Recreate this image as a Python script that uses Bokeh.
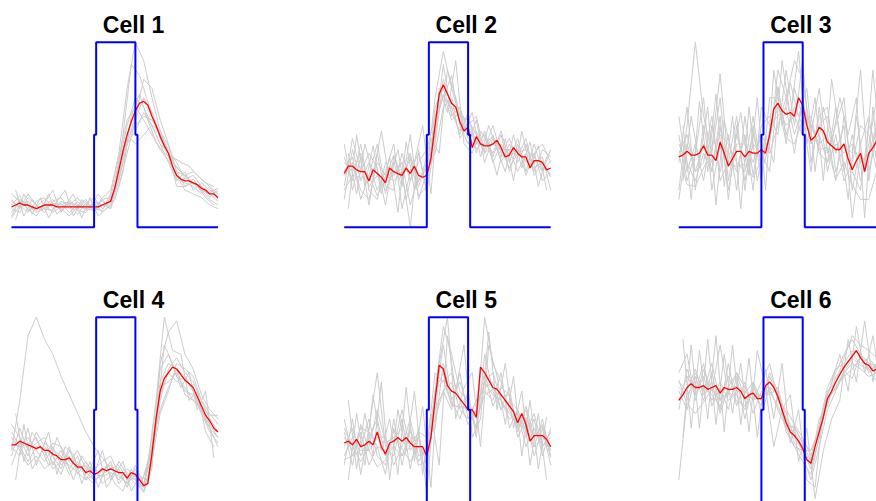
from bokeh.plotting import figure
from bokeh.models import Range1d, Label
from bokeh.embed import file_html
from bokeh.resources import INLINE

# time axis (arbitrary sample units, 0..100)
t_gray = list(range(0, 101, 4))
t_gray_b = list(range(2, 99, 4))
t_red = list(range(0, 101, 2))

# stimulus trace (scaled 0..100)
stim_t = [0, 40, 40, 41, 41, 60, 60, 61, 61, 100]
stim_y = [0, 0, 50, 50, 100, 100, 50, 50, 0, 0]

titles = ["Cell 1", "Cell 2", "Cell 3", "Cell 4", "Cell 5", "Cell 6"]

gray_1 = [
    [8, 14, 10, 6, 12, 15, 9, 12, 7, 13, 10, 9, 18, 40, 75, 100, 90, 70, 52, 40, 32, 28, 24, 20, 18, 14],
    [15, 10, 18, 12, 8, 14, 16, 10, 14, 9, 14, 12, 12, 25, 45, 60, 80, 75, 58, 45, 30, 22, 26, 20, 15, 12],
    [5, 12, 8, 14, 16, 10, 13, 8, 12, 15, 8, 15, 16, 35, 55, 70, 65, 55, 45, 35, 25, 30, 20, 24, 20, 18],
    [18, 14, 12, 9, 13, 20, 8, 15, 10, 12, 16, 10, 14, 28, 48, 55, 60, 58, 50, 42, 35, 26, 28, 22, 16, 20],
    [10, 8, 16, 12, 10, 9, 14, 12, 16, 10, 12, 14, 10, 22, 40, 58, 70, 62, 48, 38, 26, 24, 22, 18, 22, 15],
    [12, 17, 9, 11, 15, 12, 10, 6, 11, 14, 9, 16, 20, 38, 58, 65, 58, 50, 42, 36, 28, 20, 18, 16, 12, 10],
    [6, 15, 12, 8, 10, 13, 12, 14, 9, 8, 13, 8, 12, 26, 45, 52, 62, 55, 52, 44, 30, 28, 30, 26, 22, 18],
    [14, 11, 14, 10, 12, 8, 11, 13, 12, 10, 9, 12, 10, 34, 50, 45, 50, 55, 45, 40, 22, 22, 24, 22, 19, 21],
]
gray_1b = [
    [4, 18, 7, 16, 5, 14, 20, 6, 15, 10, 18, 12, 20, 50, 88, 82, 68, 56, 45, 35, 30, 25, 22, 16, 12],
    [20, 6, 15, 9, 18, 7, 12, 18, 5, 16, 6, 10, 15, 30, 60, 72, 58, 46, 40, 38, 35, 33, 28, 24, 22],
]
red_1 = [11, 12, 13, 12, 12, 11, 10, 11, 12, 12, 12, 11, 11, 11, 11, 11, 11, 11, 11, 11,
         11, 11, 12, 13, 14, 21, 31, 41, 50, 57, 63, 67, 68, 66, 60, 55, 49, 44, 40, 33,
         28, 26, 25, 25, 24, 23, 21, 20, 18, 18, 16]

gray_2 = [
    [45, 20, 38, 12, 40, 18, 35, 22, 50, 15, 30, 70, 95, 75, 60, 58, 50, 42, 55, 40, 48, 35, 45, 30, 42, 38],
    [15, 42, 25, 35, 20, 30, 45, 10, 30, 40, 20, 45, 80, 65, 50, 62, 40, 52, 38, 50, 30, 45, 28, 40, 25, 30],
    [30, 38, 15, 28, 45, 22, 20, 40, 25, 35, 42, 60, 70, 82, 55, 45, 58, 35, 48, 38, 42, 30, 40, 35, 38, 20],
    [38, 25, 45, 20, 15, 35, 28, 35, 12, 28, 25, 50, 88, 60, 65, 50, 42, 48, 40, 52, 35, 48, 30, 45, 30, 42],
    [22, 48, 30, 40, 32, 12, 38, 25, 40, 22, 35, 40, 65, 70, 48, 55, 60, 40, 50, 35, 45, 38, 48, 28, 35, 28],
    [28, 35, 20, 15, 35, 28, 25, 30, 0, 42, 18, 65, 75, 62, 52, 60, 45, 50, 35, 45, 38, 42, 35, 40, 45, 35],
    [35, 30, 40, 22, 28, 20, 30, 35, 38, 25, 32, 55, 72, 58, 62, 48, 52, 40, 45, 42, 32, 40, 42, 38, 30, 36],
    [20, 28, 27, 28, 17, 27, 39, 27, 37, 17, 22, 55, 71, 64, 64, 54, 45, 45, 49, 42, 42, 42, 36, 32, 35, 27],
]
gray_2b = [
    [10, 50, 22, 44, 18, 38, 8, 46, 20, 30, 48, 40, 85, 70, 52, 62, 38, 55, 42, 30, 50, 32, 46, 22, 38],
    [40, 18, 45, 28, 52, 25, 42, 15, 35, 55, 18, 75, 62, 90, 45, 40, 52, 45, 28, 48, 25, 52, 32, 44, 20],
]
red_2 = [29, 33, 33, 31, 30, 30, 25, 31, 29, 27, 24, 32, 30, 29, 28, 32, 29, 33, 28, 27,
         28, 37, 55, 72, 77, 72, 67, 65, 57, 52, 54, 43, 49, 45, 44, 44, 45, 47, 43, 38,
         39, 43, 40, 38, 38, 32, 36, 36, 35, 31, 32]

gray_3 = [
    [20, 55, 100, 60, 40, 70, 25, 50, 35, 60, 30, 45, 85, 70, 90, 80, 50, 75, 40, 55, 70, 20, 45, 60, 35, 50],
    [60, 30, 45, 25, 55, 30, 50, 20, 60, 28, 55, 60, 50, 85, 55, 90, 35, 60, 65, 30, 45, 40, 85, 25, 60, 40],
    [35, 65, 20, 55, 30, 60, 15, 55, 25, 45, 40, 30, 75, 50, 65, 55, 60, 40, 35, 65, 30, 50, 25, 45, 70, 35],
    [50, 25, 40, 70, 20, 45, 40, 30, 50, 20, 65, 55, 60, 65, 40, 70, 45, 55, 60, 40, 55, 5, 40, 30, 50, 55],
    [15, 45, 30, 35, 60, 25, 35, 60, 20, 55, 25, 70, 70, 45, 75, 60, 30, 65, 30, 50, 25, 35, 55, 50, 30, 60],
    [45, 35, 25, 40, 30, 55, 20, 45, 45, 35, 50, 40, 55, 70, 50, 65, 55, 45, 50, 25, 60, 30, 20, 55, 45, 30],
    [40, 50, 30, 45, 35, 50, 45, 35, 30, 50, 35, 50, 65, 55, 60, 50, 45, 50, 35, 45, 40, 45, 35, 40, 55, 45],
    [39, 23, 22, 32, 42, 83, 34, 33, 34, 27, 36, 50, 76, 48, 45, 58, 56, 42, 43, 26, 35, 23, 15, 15, 31, 37],
]
gray_3b = [
    [55, 15, 68, 30, 72, 22, 60, 10, 65, 25, 50, 35, 90, 60, 95, 45, 70, 25, 80, 50, 15, 60, 30, 85, 40],
    [25, 60, 35, 65, 12, 58, 38, 62, 28, 70, 20, 85, 55, 78, 60, 75, 30, 65, 45, 70, 50, 70, 5, 65, 20],
]
red_3 = [38, 39, 41, 39, 39, 40, 44, 39, 39, 36, 46, 40, 33, 37, 41, 41, 38, 41, 40, 40,
         42, 40, 50, 64, 67, 63, 61, 62, 60, 70, 66, 55, 47, 49, 54, 52, 46, 44, 42, 42,
         45, 37, 31, 36, 40, 30, 40, 43, 47, 45, 44]

gray_4 = [
    [28, 55, 90, 100, 88, 80, 68, 58, 48, 38, 30, 24, 18, 16, 14, 12, 8, 20, 65, 75, 72, 68, 60, 50, 40, 35],
    [38, 30, 35, 28, 22, 30, 20, 25, 18, 20, 12, 15, 22, 10, 16, 12, 5, 18, 75, 92, 98, 80, 72, 58, 50, 45],
    [25, 40, 28, 32, 35, 20, 28, 18, 25, 12, 20, 10, 14, 18, 8, 20, 10, 25, 55, 72, 78, 70, 65, 55, 48, 42],
    [42, 35, 25, 38, 30, 25, 18, 30, 15, 22, 15, 28, 12, 22, 15, 10, 14, 30, 62, 65, 70, 60, 58, 48, 40, 30],
    [30, 25, 40, 20, 32, 28, 25, 15, 22, 14, 10, 18, 20, 12, 18, 14, 6, 22, 48, 60, 75, 72, 68, 55, 45, 38],
    [20, 32, 30, 35, 25, 32, 30, 22, 28, 18, 18, 22, 25, 15, 10, 18, 8, 35, 72, 80, 68, 62, 55, 50, 42, 35],
    [35, 28, 20, 25, 18, 22, 15, 28, 20, 16, 12, 15, 18, 20, 12, 16, 10, 28, 58, 70, 65, 68, 60, 48, 38, 32],
    [32, 30, 22, 30, 28, 18, 22, 20, 16, 12, 15, 14, 16, 14, 10, 15, 9, 30, 50, 62, 72, 58, 55, 52, 47, 47],
]
gray_4b = [
    [48, 22, 38, 30, 20, 35, 24, 12, 25, 18, 28, 8, 15, 22, 6, 14, 12, 40, 85, 75, 62, 70, 50, 60, 24],
    [12, 42, 18, 26, 38, 15, 30, 26, 10, 22, 8, 20, 10, 6, 18, 8, 20, 55, 100, 82, 80, 55, 60, 38, 30],
]
red_4 = [31, 31, 33, 32, 31, 30, 29, 30, 28, 28, 26, 25, 23, 23, 24, 21, 19, 19, 16, 17,
         15, 16, 18, 17, 18, 17, 16, 16, 13, 16, 15, 12, 9, 10, 26, 45, 60, 67, 70, 73,
         72, 69, 66, 64, 62, 57, 52, 47, 44, 40, 38]

gray_5 = [
    [20, 45, 15, 40, 70, 30, 25, 45, 18, 40, 5, 60, 95, 80, 60, 55, 40, 100, 75, 65, 50, 40, 50, 30, 45, 25],
    [45, 25, 38, 20, 30, 15, 45, 20, 40, 22, 30, 45, 60, 50, 70, 45, 55, 60, 55, 70, 40, 50, 35, 45, 25, 40],
    [30, 40, 25, 35, 45, 25, 30, 50, 28, 35, 20, 55, 85, 55, 45, 60, 35, 80, 60, 50, 62, 35, 45, 25, 40, 20],
    [38, 20, 42, 28, 35, 35, 20, 30, 45, 25, 28, 70, 65, 70, 55, 42, 50, 65, 70, 55, 45, 48, 30, 40, 30, 35],
    [25, 35, 30, 45, 25, 20, 40, 25, 30, 38, 35, 40, 75, 55, 65, 52, 48, 70, 52, 62, 58, 38, 52, 35, 42, 28],
    [40, 30, 22, 30, 50, 32, 35, 40, 35, 20, 22, 50, 60, 65, 50, 45, 55, 62, 65, 50, 55, 50, 38, 48, 30, 38],
    [35, 28, 40, 38, 30, 28, 30, 25, 38, 30, 25, 60, 70, 52, 52, 50, 40, 65, 58, 55, 48, 42, 40, 30, 35, 30],
    [23, 25, 28, 28, 19, 23, 39, 29, 22, 30, 15, 60, 66, 53, 51, 51, 45, 58, 61, 57, 58, 41, 46, 35, 41, 24],
]
gray_5b = [
    [55, 18, 48, 25, 65, 12, 50, 28, 60, 15, 48, 20, 90, 60, 85, 35, 45, 92, 50, 75, 40, 60, 20, 48, 12],
    [12, 48, 20, 58, 28, 45, 15, 62, 22, 52, 8, 75, 100, 45, 62, 70, 30, 85, 68, 42, 68, 25, 55, 18, 46],
]
red_5 = [32, 33, 31, 34, 30, 31, 33, 31, 38, 30, 26, 32, 33, 35, 33, 35, 32, 30, 30, 30,
         25, 35, 55, 74, 72, 63, 60, 59, 56, 53, 50, 50, 46, 73, 70, 66, 62, 61, 58, 55,
         52, 49, 43, 48, 42, 33, 36, 36, 36, 34, 30]

gray_6 = [
    [12, 55, 70, 60, 75, 55, 68, 58, 50, 62, 55, 70, 60, 40, 30, 22, 15, 35, 58, 70, 80, 88, 80, 75, 72, 65],
    [70, 80, 55, 72, 60, 85, 58, 70, 62, 55, 65, 75, 55, 50, 42, 35, 25, 40, 60, 65, 78, 90, 85, 82, 78, 80],
    [60, 50, 68, 55, 70, 50, 75, 52, 65, 48, 60, 58, 62, 45, 32, 25, 12, 30, 50, 60, 70, 75, 72, 68, 70, 62],
    [55, 68, 60, 75, 52, 62, 50, 68, 45, 65, 48, 62, 50, 40, 38, 30, 20, 42, 62, 72, 75, 82, 80, 70, 75, 78],
    [65, 60, 72, 58, 65, 48, 62, 70, 55, 60, 52, 68, 58, 48, 35, 28, 28, 38, 55, 62, 68, 72, 78, 72, 65, 70],
    [50, 72, 58, 68, 55, 65, 55, 60, 60, 55, 58, 60, 52, 42, 40, 32, 22, 45, 52, 68, 72, 80, 75, 78, 72, 68],
    [62, 58, 65, 62, 58, 52, 60, 55, 52, 62, 55, 65, 60, 38, 30, 28, 18, 35, 55, 62, 70, 78, 74, 72, 70, 74],
    [66, 53, 48, 54, 61, 55, 60, 63, 59, 65, 55, 62, 59, 41, 41, 32, 28, 39, 56, 61, 71, 67, 80, 75, 74, 71],
]
gray_6b = [
    [88, 40, 82, 45, 90, 38, 85, 42, 78, 35, 72, 45, 75, 32, 50, 12, 8, 50, 65, 80, 60, 95, 70, 90, 60],
    [35, 85, 40, 88, 42, 80, 48, 75, 38, 82, 62, 30, 50, 58, 22, 40, 2, 28, 45, 55, 88, 65, 98, 65, 88],
]
red_6 = [55, 58, 62, 64, 62, 62, 63, 61, 62, 63, 59, 62, 61, 61, 62, 60, 56, 58, 59, 56,
         56, 63, 65, 62, 57, 50, 43, 38, 36, 33, 29, 23, 21, 30, 38, 46, 56, 60, 65, 69,
         73, 76, 79, 82, 78, 75, 74, 71, 72, 72, 71]

grays = [gray_1, gray_2, gray_3, gray_4, gray_5, gray_6]
grays_b = [gray_1b, gray_2b, gray_3b, gray_4b, gray_5b, gray_6b]
reds = [red_1, red_2, red_3, red_4, red_5, red_6]

# ---- layout (page pixels) ----
W, H = 876, 501
OFF = 0
col_x0 = [11.0, 343.7, 678.3]
panel_w = 206.5
row_top = [41.7, 316.7]
panel_h = 185.0

p = figure(width=W, height=H, output_backend="svg", toolbar_location=None,
           x_range=Range1d(0, W), y_range=Range1d(0, H),
           x_axis_location=None, y_axis_location=None,
           min_border=0, min_border_left=0, min_border_right=0,
           min_border_top=0, min_border_bottom=0)
p.grid.visible = False
p.outline_line_color = None
p.background_fill_color = "white"
p.border_fill_color = "white"

for c, x0 in enumerate(col_x0):
    s = panel_w / 100.0
    start = -(x0 - OFF) / s
    p.extra_x_ranges[f"c{c}"] = Range1d(start, start + W / s)
for r, yt in enumerate(row_top):
    sy = panel_h / 100.0
    pb = yt + panel_h - OFF
    start = -(H - pb) / sy
    p.extra_y_ranges[f"r{r}"] = Range1d(start, start + H / sy)

for k in range(6):
    r, c = divmod(k, 3)
    xr, yr = f"c{c}", f"r{r}"
    tr = grays[k]
    p.multi_line(xs=[t_gray] * len(tr), ys=tr, line_color="#cccccc", line_width=1,
                 x_range_name=xr, y_range_name=yr)
    tb = grays_b[k]
    p.multi_line(xs=[t_gray_b] * len(tb), ys=tb, line_color="#cccccc", line_width=1,
                 x_range_name=xr, y_range_name=yr)
    p.line(t_red, reds[k], line_color="#ff0000", line_width=1.3,
           x_range_name=xr, y_range_name=yr)
    p.line(stim_t, stim_y, line_color="#0000ff", line_width=2,
           x_range_name=xr, y_range_name=yr)
    p.add_layout(Label(x=59.1, y=109.4, x_range_name=xr, y_range_name=yr,
                       text=titles[k], text_align="center", text_baseline="alphabetic",
                       text_font="Liberation Sans", text_font_style="bold",
                       text_font_size="23px", text_color="black"))

open("out.html", "w").write(file_html(p, INLINE))
